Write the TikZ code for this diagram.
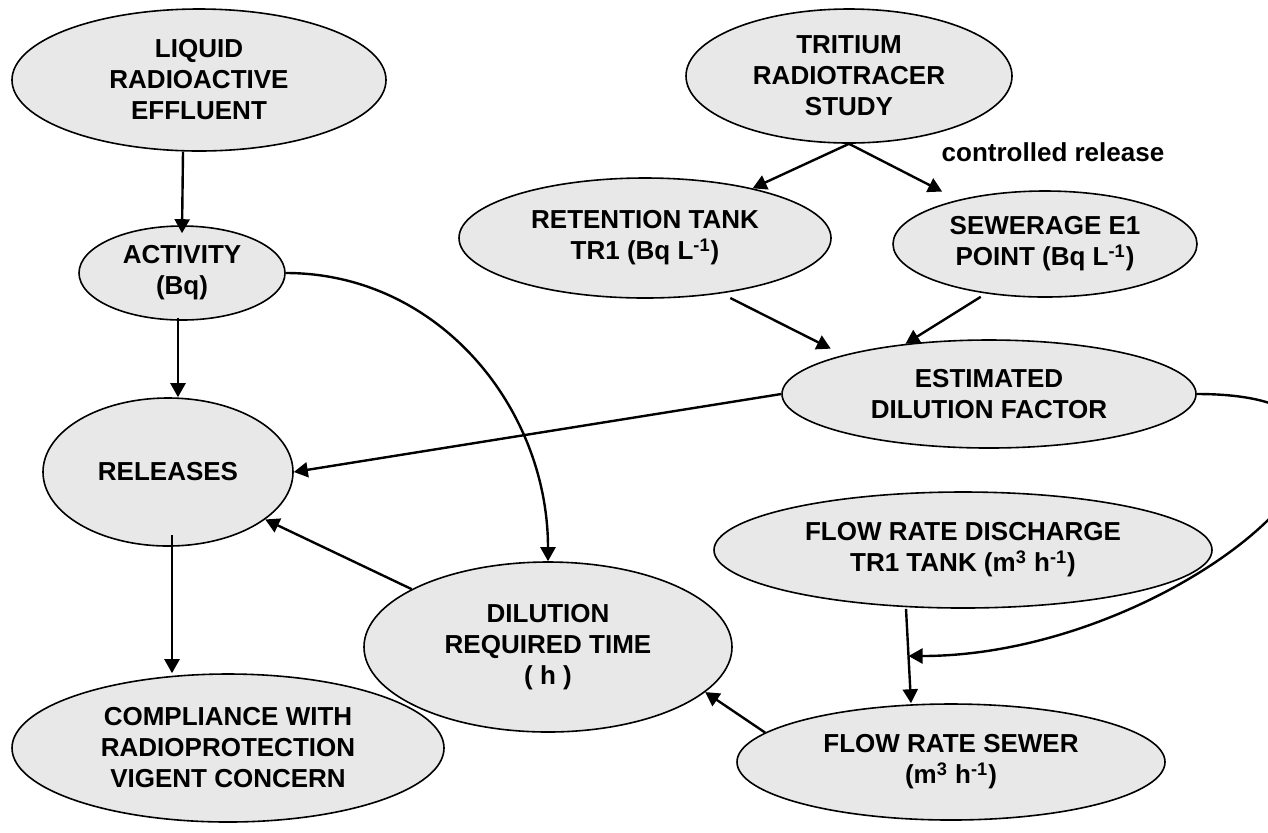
\documentclass[tikz,border=0pt]{standalone}
\usepackage{fontspec}
\setmainfont{Liberation Sans}
\usepackage{tikz}
\usetikzlibrary{arrows.meta, shapes.geometric, calc}
\definecolor{bubblegray}{RGB}{232,232,232}
\tikzset{
  bubble/.style={ellipse, draw=black, line width=0.8pt, fill=bubblegray,
                 inner sep=0pt, align=center,
                 font=\fontsize{13}{15.5}\selectfont\bfseries},
  note/.style={font=\fontsize{13}{15.5}\selectfont\bfseries, inner sep=0pt},
  arr/.style={-{Triangle[length=7pt, width=7.5pt]}, line width=1.2pt},
}

\begin{document}
\begin{tikzpicture}[x=0.5pt, y=-0.5pt]
  \useasboundingbox (0,0) rectangle (1268,832);

  \node[bubble, minimum width=187pt, minimum height=71pt] (liquid)     at (199,80)  {LIQUID\\RADIOACTIVE\\EFFLUENT};
  \node[bubble, minimum width=163pt, minimum height=67pt] (tritium)    at (849,76)  {TRITIUM\\RADIOTRACER\\STUDY};
  \node[bubble, minimum width=186pt, minimum height=60pt] (retention)  at (645,238) {RETENTION TANK\\TR1 (Bq L\textsuperscript{-1})};
  \node[bubble, minimum width=152pt, minimum height=53pt] (sewerage)   at (1045,244) {SEWERAGE E1\\POINT (Bq L\textsuperscript{-1})};
  \node[bubble, minimum width=103pt, minimum height=47pt] (activity)   at (182,273) {ACTIVITY\\(Bq)};
  \node[bubble, minimum width=207pt, minimum height=54pt] (estimated)  at (989,394) {ESTIMATED\\DILUTION FACTOR};
  \node[bubble, minimum width=125pt, minimum height=74pt] (releases)   at (168,472) {RELEASES};
  \node[bubble, minimum width=249pt, minimum height=58pt] (discharge)  at (963,550) {FLOW RATE DISCHARGE\\TR1 TANK (m\textsuperscript{3} h\textsuperscript{-1})};
  \node[bubble, minimum width=184pt, minimum height=85pt] (dilution)   at (548,647) {DILUTION\\REQUIRED TIME\\( h )};
  \node[bubble, minimum width=214pt, minimum height=58pt] (sewer)      at (951,762) {FLOW RATE SEWER\\(m\textsuperscript{3} h\textsuperscript{-1})};
  \node[bubble, minimum width=216pt, minimum height=74pt] (compliance) at (228,748) {COMPLIANCE WITH\\RADIOPROTECTION\\VIGENT CONCERN};
  \node[note] (ctrl) at (1053,152) {controlled release};

  \coordinate (dtop) at ([xshift=-28.5pt]discharge.south);
  \coordinate (sbot) at ([xshift=-20pt]sewer.north);
  \coordinate (meet) at ($(dtop)!0.5!(sbot)$);

  \draw[arr] ([xshift=-8pt]liquid.south) -- ([yshift=-4pt]activity.north);
  \draw[arr] ([xshift=-2pt,yshift=1.5pt]activity.south) -- ([xshift=5pt]releases.north);
  \draw[arr] (activity.east) .. controls +(153,0) and +(0,-153) .. (dilution.north);
  \draw[arr] (tritium.south) -- (retention);
  \draw[arr, shorten >=9pt] (tritium.south) -- (sewerage.153);
  \draw[arr, shorten <=5pt, shorten >=7pt] (retention.-36) -- (estimated.165);
  \draw[arr, shorten <=3pt] (sewerage.-140) -- (estimated.149);
  \draw[arr] (estimated.west) -- (releases.east);
  \draw[arr] (estimated.east) .. controls +(278,0) and +(278,0) .. (meet);
  \draw[arr] (dtop) -- (sbot);
  \draw[arr] (sewer.171) -- (dilution.-16);
  \draw[arr] (dilution.157) -- (releases.-26);
  \draw[arr] ([xshift=2pt,yshift=6pt]releases.south) -- ([xshift=-28pt]compliance.north);
\end{tikzpicture}
\end{document}
